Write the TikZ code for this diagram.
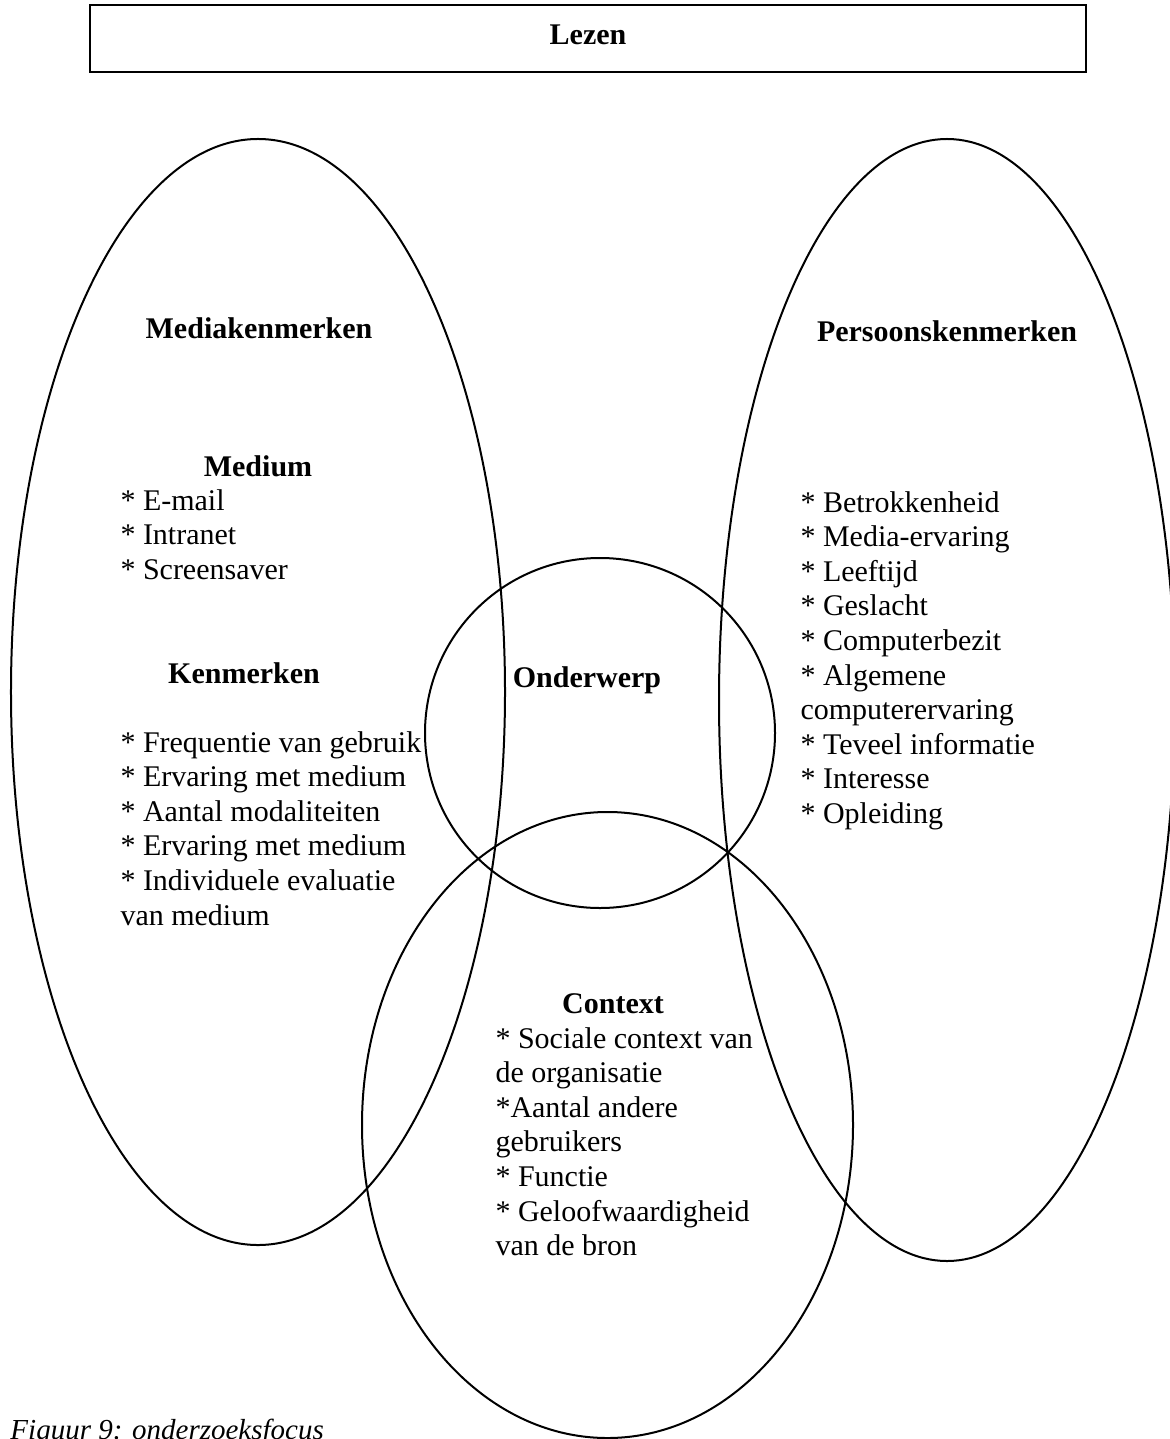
\documentclass[tikz,border=0pt]{standalone}
\usepackage{fontspec}
\setmainfont{Liberation Serif}
\begin{document}
\begin{tikzpicture}[x=0.4pt,y=-0.4pt,
  outline/.style={line width=0.8pt},
  txt/.style={font=\fontsize{12}{13.84}\selectfont, inner sep=0pt, align=left},
  head/.style={font=\fontsize{12}{13.84}\selectfont\bfseries, inner sep=0pt, anchor=base},
  % a multi-line block sits on the baseline of its last line
  listblock/.style={txt, anchor=base west}]
\useasboundingbox[fill=white] (0,0) rectangle (1170,1439);

% title bar
\draw[line width=0.9pt] (90,5) rectangle (1086,72);
\node[head] (lezen) at (588,45) {Lezen};

% the four overlapping areas
\draw[outline] (258,692) ellipse [x radius=98.8pt, y radius=221.2pt];
\draw[outline] (947,700) ellipse [x radius=91.2pt, y radius=224.4pt];
\draw[outline] (600,733) circle [radius=70pt];
\draw[outline] (607.5,1125) ellipse [x radius=98.2pt, y radius=125.2pt];

% media characteristics
\node[head] (media) at (259,338) {Mediakenmerken};
\node[head] (medium) at (258,476) {Medium};
\node[listblock] (mediumlist) at (120,579.2) {* E-mail\\* Intranet\\* Screensaver};
\node[head] (kenm) at (244,683) {Kenmerken};
\node[listblock] (kenmlist) at (120,925) {* Frequentie van gebruik\\* Ervaring met medium\\* Aantal modaliteiten\\* Ervaring met medium\\* Individuele evaluatie\\van medium};

% subject
\node[head] (onderwerp) at (587,687) {Onderwerp};

% personal characteristics
\node[head] (persoon) at (947,341) {Persoonskenmerken};
\node[listblock] (persoonlist) at (800,823.4) {* Betrokkenheid\\* Media-ervaring\\* Leeftijd\\* Geslacht\\* Computerbezit\\* Algemene\\computerervaring\\* Teveel informatie\\* Interesse\\* Opleiding};

% context
\node[head] (context) at (613,1013) {Context};
\node[listblock] (contextlist) at (495,1255.6) {* Sociale context van\\de organisatie\\*Aantal andere\\gebruikers\\* Functie\\* Geloofwaardigheid\\van de bron};

% caption
\node[txt, anchor=base west, font=\fontsize{11.6}{13.84}\selectfont\itshape] (caption) at (10,1439) {Figuur 9: onderzoeksfocus};
\end{tikzpicture}
\end{document}
